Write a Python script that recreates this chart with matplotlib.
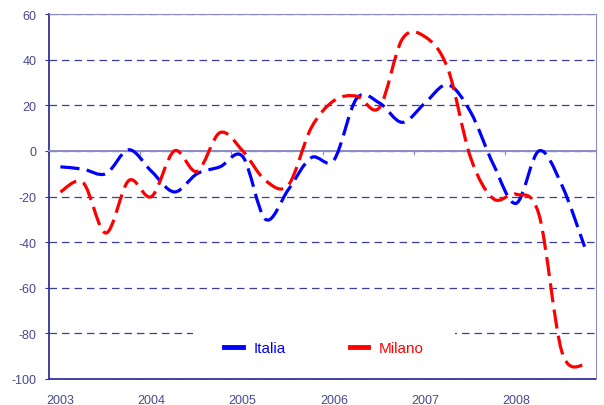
import numpy as np
import matplotlib
matplotlib.use('Agg')
import matplotlib.pyplot as plt
from matplotlib.path import Path
from matplotlib.patches import PathPatch, Rectangle
from matplotlib.lines import Line2D

plt.rcParams['font.family'] = ['Liberation Sans', 'DejaVu Sans']
plt.rcParams['axes.unicode_minus'] = False

years = ['2003', '2004', '2005', '2006', '2007', '2008']
# quarterly values, 2003 Q1 .. 2008 Q4
italia = [-7, -8, -10, 0.5, -9, -18, -10, -7, -2.5, -30, -17, -3,
          -4, 23, 21, 12.5, 21, 29, 17, -6, -23, 0, -15, -42]
milano = [-18, -14, -36, -13, -20, 0, -9, 8, 0, -13, -15, 10,
          22, 24, 19, 49, 50, 36, -3, -21, -19, -28, -88, -94]

axis_text = '#484890'
grid_col = '#3c3c9c'
light = '#8c8cc8'


def smooth_path(vals):
    # excel-like smoothed line: bezier segments through the quarterly points
    x = np.arange(len(vals)) + 0.5
    pts = np.column_stack([x, vals]).astype(float)
    verts = [pts[0]]
    codes = [Path.MOVETO]
    for i in range(len(pts) - 1):
        p0 = pts[i - 1] if i > 0 else pts[i]
        p3 = pts[i + 2] if i + 2 < len(pts) else pts[i + 1]
        c1 = pts[i] + (pts[i + 1] - p0) / 6
        c2 = pts[i + 1] - (p3 - pts[i]) / 6
        verts += [c1, c2, pts[i + 1]]
        codes += [Path.CURVE4] * 3
    return Path(verts, codes)


fig = plt.figure(figsize=(6.04, 4.06), dpi=100)
ax = fig.add_axes([49 / 604, 26 / 406, 547 / 604, 365 / 406])

n = len(italia)
ax.set_xlim(0, n)
ax.set_ylim(-100, 60)
ax.set_yticks(np.arange(-100, 61, 20))

ax.set_axisbelow(True)
ax.grid(axis='y', color=grid_col, lw=0.9, linestyle=(0, (6, 4)))

# white legend area hides the gridline behind it
ax.add_patch(Rectangle((0.263, 0.01), 0.48, 0.16, transform=ax.transAxes,
                       facecolor='white', edgecolor='none', zorder=1.2))

for vals, col in [(italia, '#0000ff'), (milano, '#ff0000')]:
    ax.add_patch(PathPatch(smooth_path(vals), fill=False, edgecolor=col,
                           lw=2.3, linestyle=(0, (6, 2.3)), capstyle='butt',
                           zorder=3))

# category axis crosses at zero, labels stay at the bottom
ax.spines['bottom'].set_position(('data', 0))
ax.spines['bottom'].set_color(light)
ax.spines['bottom'].set_linewidth(1.4)
ax.set_xticks(np.arange(0, n + 1, 4))
ax.tick_params(axis='x', direction='out', length=3, color=light,
               labelbottom=False)
ax.spines['top'].set_color(light)
ax.spines['right'].set_color(light)
ax.spines['left'].set_color('#333399')
ax.spines['left'].set_linewidth(1.3)

lab_ax = ax.secondary_xaxis('bottom')
lab_ax.set_xticks(np.arange(0, n, 4) + 0.5)
lab_ax.set_xticklabels(years)
lab_ax.tick_params(length=0, pad=11, labelsize=9, labelcolor=axis_text)
lab_ax.spines['bottom'].set_color('#333399')
lab_ax.spines['bottom'].set_linewidth(1.3)

ax.tick_params(axis='y', direction='out', length=3, color='#333399',
               pad=6, labelsize=9, labelcolor=axis_text)

handles = [Line2D([], [], color='#0000ff', lw=3.5),
           Line2D([], [], color='#ff0000', lw=3.5)]
ax.legend(handles, ['Italia', 'Milano'], loc='center',
          bbox_to_anchor=(0.503, 0.085), ncol=2, frameon=False,
          fontsize=11, labelcolor=['#0000ff', '#ff0000'],
          handlelength=1.2, handletextpad=0.7, columnspacing=4.2)

fig.savefig('out.png', dpi=100)
